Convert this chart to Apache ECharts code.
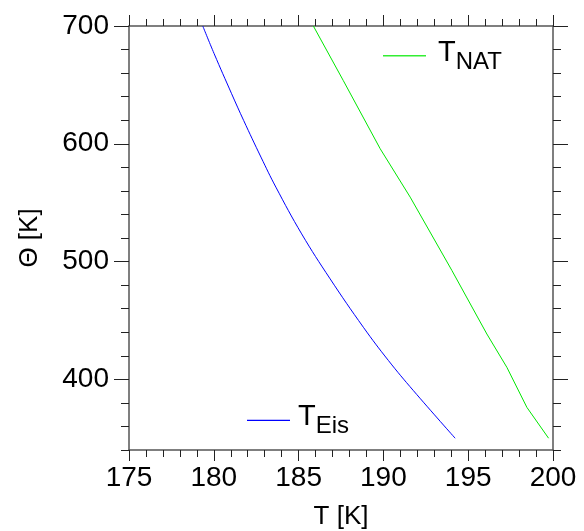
<!DOCTYPE html>
<html><head><meta charset="utf-8">
<script src="https://cdn.jsdelivr.net/npm/echarts@6/dist/echarts.min.js"></script>
<style>html,body{margin:0;padding:0;background:#fff}#c{width:584px;height:531px}</style>
</head><body><div id="c"></div>
<script>
// Data
const thetaEis = [700, 676.5, 642.5, 619.8, 588.7, 563.2, 523.5, 485.3, 444.2, 415.9, 390.4, 350];
const tEis     = [179.35, 180.02, 181.05, 181.76, 182.78, 183.66, 185.18, 186.86, 188.82, 190.30, 191.77, 194.23];
const thetaNat = [700, 653.8, 595.8, 554.7, 492.4, 438.5, 410.2, 376.2, 350];
const tNat     = [185.87, 187.63, 189.81, 191.58, 194.04, 196.10, 197.28, 198.46, 199.74];
const yMajorTicks = [400, 500, 600, 700];
const legendMain = 'T';
const legendEis = 'Eis';
const legendNat = 'NAT';

const FONT = '"Liberation Sans", Arial, sans-serif';
const axisLineStyle = {color: '#555', width: 1.5};
const tickStyle = {color: '#222', width: 1};

function xAxis(pos, labels) {
  return {
    type: 'value', position: pos, min: 175, max: 200, interval: 5,
    axisLine: {show: true, onZero: false, lineStyle: axisLineStyle},
    axisTick: {show: true, inside: false, length: 11, lineStyle: tickStyle},
    minorTick: {show: true, splitNumber: 5, length: 7, lineStyle: tickStyle},
    splitLine: {show: false}, minorSplitLine: {show: false},
    axisLabel: {show: labels, fontSize: 28, color: '#000', margin: 14, fontFamily: FONT},
    name: labels ? 'T [K]' : '', nameLocation: 'middle', nameGap: 54,
    nameTextStyle: {fontSize: 26, color: '#000', fontFamily: FONT}
  };
}
function yAxis(pos, labels) {
  return {
    type: 'value', position: pos, min: 340, max: 700, interval: 20,
    axisLine: {show: true, onZero: false, lineStyle: axisLineStyle},
    axisTick: {show: true, inside: false, length: 8, lineStyle: tickStyle},
    splitLine: {show: false},
    axisLabel: {show: labels, fontSize: 28, color: '#000', margin: 20, fontFamily: FONT,
      formatter: v => (v % 100 === 0 ? String(v) : '')},
    name: labels ? 'Θ [K]' : '', nameLocation: 'middle', nameGap: 86, nameRotate: 90,
    nameTextStyle: {fontSize: 26, color: '#000', fontFamily: FONT}
  };
}
function yMajor(pos) {
  return {
    type: 'value', position: pos, min: 340, max: 700, interval: 20,
    axisLine: {show: false, onZero: false},
    axisTick: {show: true, inside: false, length: 15, lineStyle: tickStyle, customValues: yMajorTicks},
    axisLabel: {show: false}, splitLine: {show: false}
  };
}

const rich = {
  a: {fontSize: 29, fontFamily: FONT, color: '#000', verticalAlign: 'top', lineHeight: 36},
  b: {fontSize: 24, fontFamily: FONT, color: '#000', verticalAlign: 'bottom', lineHeight: 36}
};

const chart = echarts.init(document.getElementById('c'), null, {renderer: 'canvas'});
chart.setOption({
  animation: false,
  backgroundColor: '#fff',
  grid: {left: 129, right: 31, top: 26, bottom: 81, containLabel: false, outerBoundsMode: 'none'},
  xAxis: [xAxis('bottom', true), xAxis('top', false)],
  yAxis: [yAxis('left', true), yAxis('right', false), yMajor('left'), yMajor('right')],
  series: [
    {name: 'T_Eis', type: 'line', xAxisIndex: 0, yAxisIndex: 0, showSymbol: false, symbol: 'none', smooth: 0.4,
     lineStyle: {color: '#0000ff', width: 1}, data: tEis.map((t, i) => [t, thetaEis[i]])},
    {name: 'T_NAT', type: 'line', xAxisIndex: 0, yAxisIndex: 0, showSymbol: false, symbol: 'none',
     lineStyle: {color: '#00e600', width: 1}, data: tNat.map((t, i) => [t, thetaNat[i]])}
  ],
  graphic: [
    {type: 'line', shape: {x1: 383, y1: 55.7, x2: 426, y2: 55.7}, style: {stroke: '#33ee33', lineWidth: 1.5}},
    {type: 'text', x: 438, y: 38, style: {text: '{a|' + legendMain + '}{b|' + legendNat + '}', rich: rich, verticalAlign: 'top'}},
    {type: 'line', shape: {x1: 247, y1: 420.3, x2: 290, y2: 420.3}, style: {stroke: '#0000ff', lineWidth: 1.2}},
    {type: 'text', x: 298, y: 402.6, style: {text: '{a|' + legendMain + '}{b|' + legendEis + '}', rich: rich, verticalAlign: 'top'}}
  ]
});
</script></body></html>
